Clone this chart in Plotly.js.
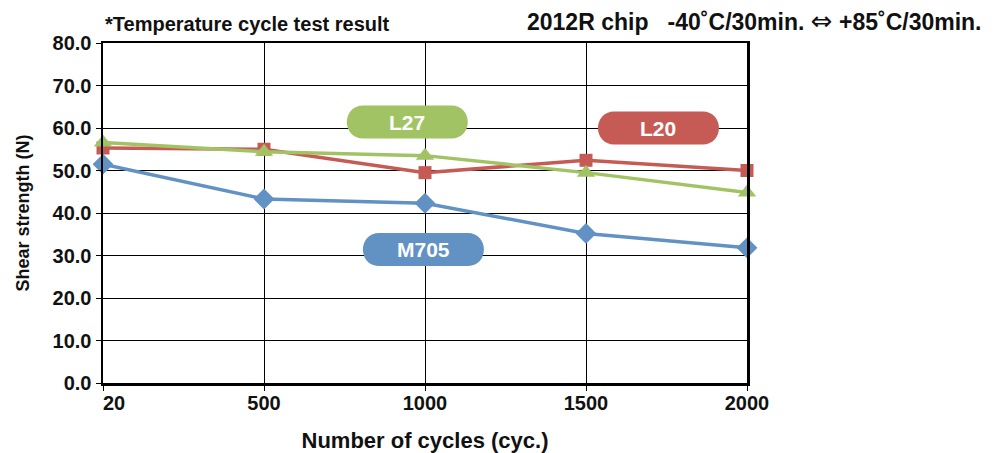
<!DOCTYPE html>
<html><head><meta charset="utf-8">
<script src="https://cdn.plot.ly/plotly-3.0.1.min.js"></script>
<style>html,body{margin:0;padding:0;background:#fff}#chart{width:999px;height:453px}</style>
</head><body><div id="chart"></div>
<script>
const cycles = ['20', '500', '1000', '1500', '2000'];
const m705 = [51.5, 43.3, 42.3, 35.2, 31.8];
const l20 = [55.3, 55.0, 49.5, 52.4, 50.0];
const l27 = [56.6, 54.4, 53.5, 49.5, 44.8];
const yTicks = [0, 10, 20, 30, 40, 50, 60, 70, 80];

const FONT = 'Liberation Sans, Arial, sans-serif';
const blue = '#6291C4', red = '#C65B55', green = '#A2C364';
const NB = '\u00a0';

const traces = [
  {x: cycles, y: m705, name: 'M705', mode: 'lines+markers', cliponaxis: false, line: {color: blue, width: 3.5},
   marker: {symbol: 'diamond', size: 16, color: blue}},
  {x: cycles, y: l20, name: 'L20', mode: 'lines+markers', cliponaxis: false, line: {color: red, width: 3.5},
   marker: {symbol: 'square', size: 13, color: red}},
  {x: cycles, y: l27, name: 'L27', mode: 'lines+markers', cliponaxis: false, line: {color: green, width: 3.5},
   marker: {symbol: 'triangle-up', size: 16, color: green}}
];

function pill(xc, yc, color) {
  return {type: 'path', xref: 'x', yref: 'y', xsizemode: 'pixel', ysizemode: 'pixel',
    xanchor: xc, yanchor: yc,
    path: 'M -44,-16.5 L 44,-16.5 C 66,-16.5 66,16.5 44,16.5 L -44,16.5 C -66,16.5 -66,-16.5 -44,-16.5 Z',
    fillcolor: color, line: {width: 0}, layer: 'above'};
}
const labels = [
  {name: 'L27', x: 1.89, y: 61.4, color: green},
  {name: 'L20', x: 3.45, y: 60.0, color: red},
  {name: 'M705', x: 1.99, y: 31.4, color: blue}
];

const tickText = cycles.map((c, i) => i === 0 ? NB + NB + NB + NB + c : c);

const layout = {
  width: 999, height: 453,
  margin: {l: 103, r: 252, t: 43, b: 70},
  paper_bgcolor: '#fff', plot_bgcolor: '#fff',
  showlegend: false,
  font: {family: FONT, color: '#111'},
  xaxis: {type: 'category', range: [0, 4], tickmode: 'array', tickvals: cycles, ticktext: tickText,
    showgrid: true, gridcolor: '#000', gridwidth: 1,
    showline: true, linecolor: '#000', linewidth: 2.5, mirror: true,
    ticks: 'outside', ticklen: 5, tickcolor: '#000', tickwidth: 1, ticklabelstandoff: -5,
    tickfont: {family: FONT, size: 20, color: '#111', weight: 'bold'},
    title: {text: 'Number of cycles (cyc.)', font: {family: FONT, size: 22, color: '#111', weight: 'bold'}, standoff: 21},
    zeroline: false},
  yaxis: {range: [0, 80], tickvals: yTicks, tickformat: '.1f', showgrid: true, gridcolor: '#000', gridwidth: 1,
    showline: true, linecolor: '#000', linewidth: 2.5, mirror: true,
    ticks: 'outside', ticklen: 5, tickcolor: '#000', tickwidth: 1,
    tickfont: {family: FONT, size: 20, color: '#111', weight: 'bold'},
    title: {text: 'Shear strength (N)', font: {family: FONT, size: 18, color: '#111', weight: 'bold'}, standoff: 19},
    zeroline: false},
  shapes: labels.map(l => pill(l.x, l.y, l.color)),
  annotations: labels.map(l => ({x: l.x, y: l.y, xref: 'x', yref: 'y', text: l.name, showarrow: false,
      font: {family: FONT, size: 21, color: '#fff', weight: 'bold'}, xanchor: 'center', yanchor: 'middle'}))
    .concat([
      {xref: 'paper', yref: 'paper', x: 0, y: 1, xanchor: 'left', yanchor: 'bottom', yshift: 6, showarrow: false,
       text: '*Temperature cycle test result', font: {family: FONT, size: 20, color: '#111', weight: 'bold'}},
      {xref: 'paper', yref: 'paper', x: 1, y: 1, xanchor: 'right', yanchor: 'bottom', xshift: 237, yshift: 5, showarrow: false,
       text: '2012R chip' + NB + NB + NB + '-40˚C/30min.' + NB + '<span style="font-family:DejaVu Sans;font-weight:normal;font-size:26px">⇔</span>' + NB + '+85˚C/30min.',
       font: {family: FONT, size: 23, color: '#111', weight: 'bold'}}
    ])
};

Plotly.newPlot('chart', traces, layout, {displayModeBar: false, staticPlot: true});
</script></body></html>
